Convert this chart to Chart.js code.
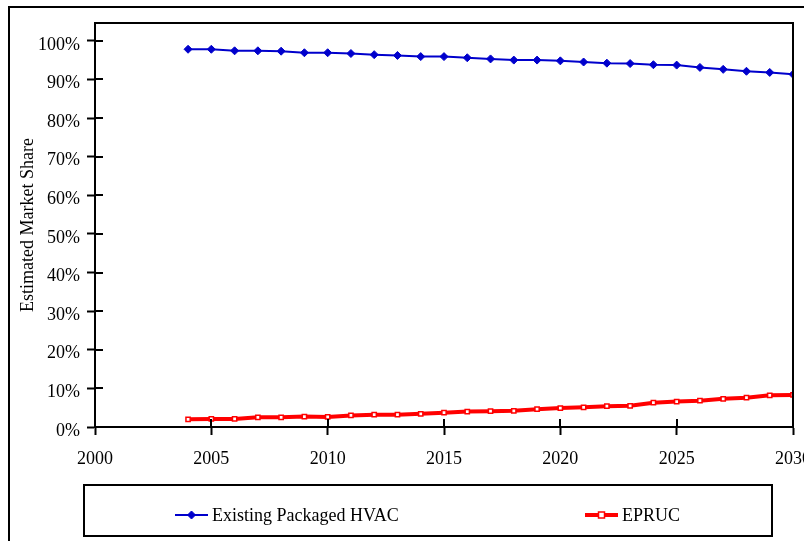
<!DOCTYPE html>
<html>
<head>
<meta charset="utf-8">
<script src="https://cdn.jsdelivr.net/npm/chart.js@4/dist/chart.umd.min.js"></script>
<style>
  body { margin: 0; background: #fff; }
  canvas { display: block; }
</style>
</head>
<body>
<canvas id="chart" width="804" height="541"></canvas>
<script>
// ============================
// Data
// ============================
const years = [2004, 2005, 2006, 2007, 2008, 2009, 2010, 2011, 2012, 2013, 2014, 2015, 2016, 2017,
               2018, 2019, 2020, 2021, 2022, 2023, 2024, 2025, 2026, 2027, 2028, 2029, 2030];
const hvacShare = [97.8, 97.8, 97.4, 97.4, 97.3, 96.9, 96.9, 96.7, 96.4, 96.2, 95.9, 95.9, 95.6, 95.3,
                   95.0, 95.0, 94.8, 94.5, 94.2, 94.1, 93.8, 93.7, 93.1, 92.6, 92.1, 91.8, 91.3];
const epErucShare = [2.0, 2.1, 2.1, 2.5, 2.5, 2.7, 2.6, 3.0, 3.2, 3.2, 3.4, 3.7, 4.0, 4.1,
                     4.2, 4.6, 4.9, 5.1, 5.4, 5.5, 6.3, 6.6, 6.8, 7.3, 7.6, 8.2, 8.3];
const yTicks = [0, 10, 20, 30, 40, 50, 60, 70, 80, 90, 100];
const xTicks = [2000, 2005, 2010, 2015, 2020, 2025, 2030];

const serif = "'Liberation Serif', 'Times New Roman', serif";

function pts(vals) {
    return years.map((y, i) => ({ x: y, y: vals[i] }));
}

// ============================
// Frames, inner ticks, legend
// ============================
const framePlugin = {
    id: 'frame',
    afterDraw(chart) {
        const c = chart.ctx;
        const a = chart.chartArea;
        c.save();
        c.strokeStyle = '#000';
        c.lineWidth = 2;
        // outer border
        c.strokeRect(9, 7, 820, 560);
        // plot frame top + right
        c.beginPath();
        c.moveTo(a.left, a.top);
        c.lineTo(a.right, a.top);
        c.lineTo(a.right, a.bottom);
        c.stroke();
        // inner tick marks
        const xs = chart.scales.x, ys = chart.scales.y;
        c.beginPath();
        yTicks.forEach(v => {
            const py = Math.round(ys.getPixelForValue(v));
            c.moveTo(a.left, py);
            c.lineTo(a.left + 8, py);
        });
        xTicks.forEach(v => {
            const px = Math.round(xs.getPixelForValue(v));
            c.moveTo(px, a.bottom);
            c.lineTo(px, a.bottom - 8);
        });
        c.stroke();
        // legend box
        c.strokeRect(84, 485, 688, 51);
        // legend entries
        const spots = [175, 585];
        chart.data.datasets.forEach((ds, i) => {
            const x0 = spots[i], y0 = 515;
            c.strokeStyle = ds.borderColor;
            c.lineWidth = ds.borderWidth;
            c.beginPath();
            c.moveTo(x0, y0);
            c.lineTo(x0 + 33, y0);
            c.stroke();
            const mx = x0 + 16.5;
            c.lineWidth = ds.pointBorderWidth;
            c.fillStyle = ds.pointBackgroundColor;
            c.strokeStyle = ds.pointBorderColor;
            const r = ds.pointRadius;
            if (ds.pointStyle === 'rectRot') {
                c.beginPath();
                c.moveTo(mx, y0 - r); c.lineTo(mx + r, y0);
                c.lineTo(mx, y0 + r); c.lineTo(mx - r, y0);
                c.closePath(); c.fill(); c.stroke();
            } else {
                c.fillRect(mx - r, y0 - r, 2 * r, 2 * r);
                c.strokeRect(mx - r, y0 - r, 2 * r, 2 * r);
            }
            c.fillStyle = '#000';
            c.font = '18px ' + serif;
            c.textBaseline = 'middle';
            c.textAlign = 'left';
            c.fillText(ds.label, x0 + 37, y0 + 1);
        });
        c.restore();
    }
};

// ============================
// Chart
// ============================
const ctx = document.getElementById('chart').getContext('2d');
const chart = new Chart(ctx, {
    type: 'line',
    data: {
        datasets: [{
            label: 'Existing Packaged HVAC',
            data: pts(hvacShare),
            borderColor: '#0000CC',
            borderWidth: 2,
            pointStyle: 'rectRot',
            pointRadius: 4,
            pointBackgroundColor: '#0000CC',
            pointBorderColor: '#0000CC',
            pointBorderWidth: 1,
        }, {
            label: 'EPRUC',
            data: pts(epErucShare),
            borderColor: '#FF0000',
            borderWidth: 4,
            pointStyle: 'rect',
            pointRadius: 3,
            pointBackgroundColor: '#FFFFFF',
            pointBorderColor: '#FF0000',
            pointBorderWidth: 1.5,
        }]
    },
    options: {
        responsive: false,
        animation: false,
        layout: { padding: { left: 0, top: 23, right: 11, bottom: 0 } },
        plugins: {
            legend: { display: false },
            tooltip: { enabled: false }
        },
        scales: {
            x: {
                type: 'linear',
                min: 2000,
                max: 2030,
                afterBuildTicks: s => { s.ticks = xTicks.map(v => ({ value: v })); },
                afterFit: s => { s.height = 114; s.paddingLeft = 0; s.paddingRight = 0; },
                grid: { drawOnChartArea: false, tickLength: 8, tickColor: '#000', tickWidth: 2 },
                border: { color: '#000', width: 2 },
                ticks: {
                    color: '#000',
                    font: { family: serif, size: 18 },
                    padding: 13,
                    maxRotation: 0,
                    callback: v => String(v)
                }
            },
            y: {
                min: 0,
                max: 104.6,
                afterBuildTicks: s => { s.ticks = yTicks.map(v => ({ value: v })); },
                afterFit: s => { s.width = 95; s.paddingTop = 0; s.paddingBottom = 0; },
                grid: { drawOnChartArea: false, tickLength: 8, tickColor: '#000', tickWidth: 2 },
                border: { color: '#000', width: 2 },
                title: {
                    display: true,
                    text: 'Estimated Market Share',
                    color: '#000',
                    font: { family: serif, size: 18 },
                    padding: { top: 17, bottom: 0 }
                },
                ticks: {
                    color: '#000',
                    font: { family: serif, size: 18 },
                    padding: 7,
                    labelOffset: 4,
                    callback: v => v + '%'
                }
            }
        }
    },
    plugins: [framePlugin]
});
</script>
</body>
</html>
